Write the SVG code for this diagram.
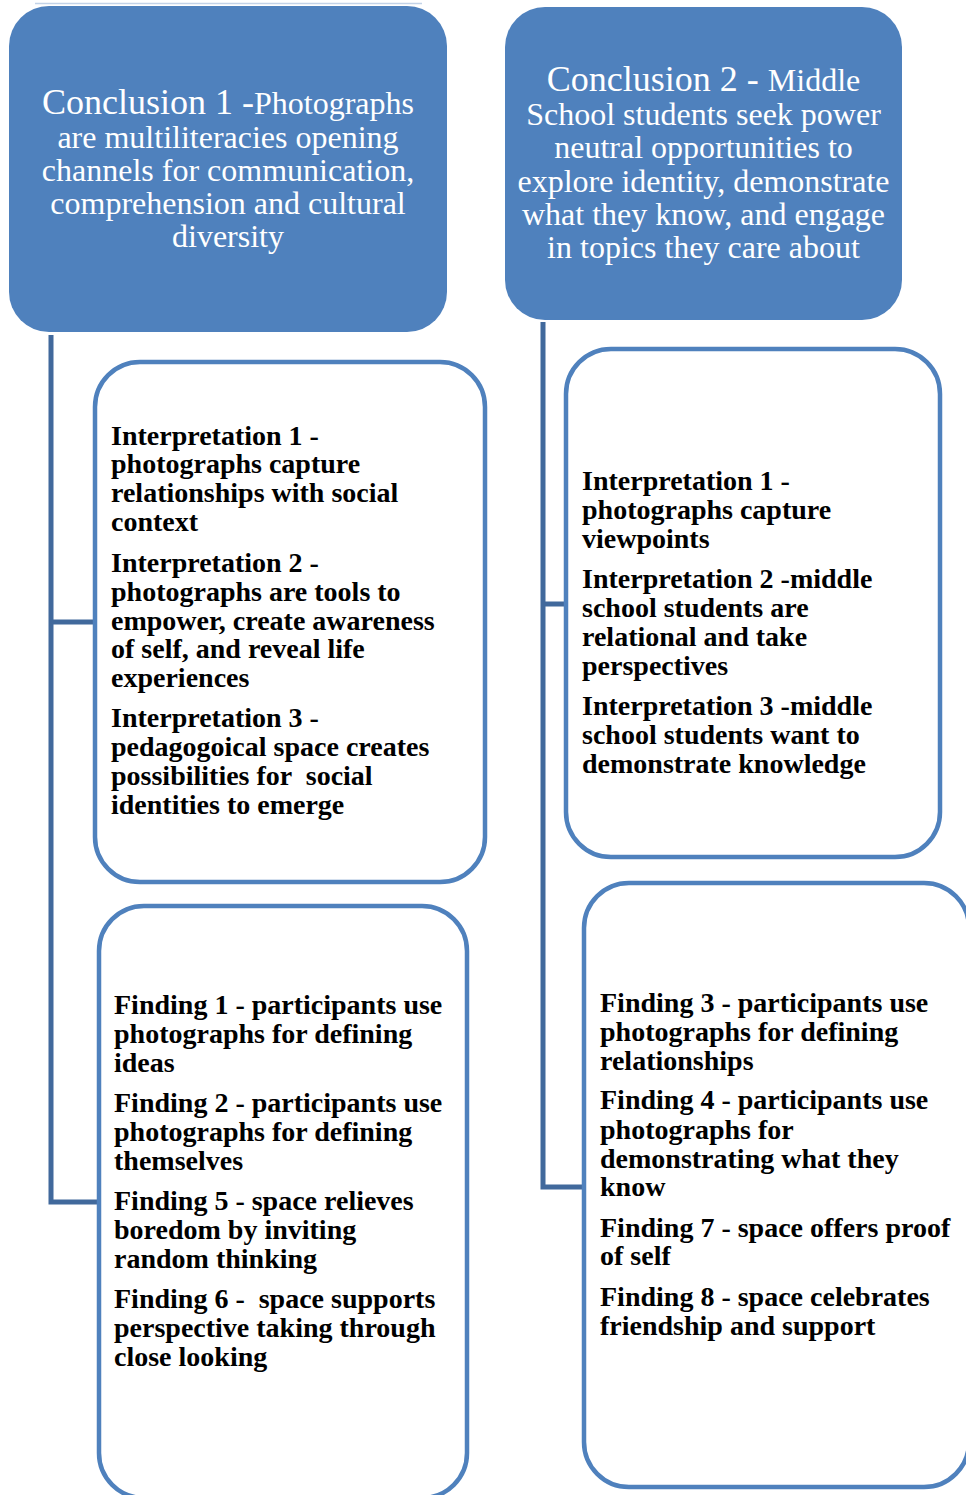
<svg xmlns="http://www.w3.org/2000/svg" width="966" height="1495" viewBox="0 0 966 1495">
<style>
.head{fill:#4F81BD;}
.box{fill:#FFFFFF;stroke:#4F81BD;stroke-width:4.5;}
.conn{fill:none;stroke:#41699C;stroke-width:5;}
.ht{font-family:"Liberation Serif",serif;font-size:32px;fill:#FFFFFF;text-anchor:middle;}
.big{font-size:36px;}
.bt{font-family:"Liberation Serif",serif;font-size:28px;font-weight:bold;fill:#000000;}
</style>
<rect width="966" height="1495" fill="#FFFFFF"/>
<line x1="35" y1="3.5" x2="422" y2="3.5" stroke="#C3D3E8" stroke-width="1.5"/>
<g id="connectors">
<path class="conn" d="M51,335 V1202 H99 M51,622 H95"/>
<path class="conn" d="M543,322 V1187 H584 M543,604 H566"/>
</g>
<g id="conclusion1">
<rect class="head" x="9" y="6" width="438" height="326" rx="40"/>
<text class="ht" x="228" y="114"><tspan class="big">Conclusion 1 -</tspan>Photographs</text>
<text class="ht" x="228" y="148">are multiliteracies opening</text>
<text class="ht" x="228" y="181">channels for communication,</text>
<text class="ht" x="228" y="214">comprehension and cultural</text>
<text class="ht" x="228" y="247">diversity</text>
</g>
<g id="conclusion2">
<rect class="head" x="505" y="7" width="397" height="313" rx="40"/>
<text class="ht" x="703.5" y="91"><tspan class="big">Conclusion 2 - </tspan>Middle</text>
<text class="ht" x="703.5" y="125">School students seek power</text>
<text class="ht" x="703.5" y="158">neutral opportunities to</text>
<text class="ht" x="703.5" y="192">explore identity, demonstrate</text>
<text class="ht" x="703.5" y="225">what they know, and engage</text>
<text class="ht" x="703.5" y="258">in topics they care about</text>
</g>
<g id="interpretations1">
<rect class="box" x="95" y="362" width="390" height="520" rx="45"/>
<text class="bt" x="111" y="445">Interpretation 1 -</text>
<text class="bt" x="111" y="473">photographs capture</text>
<text class="bt" x="111" y="502">relationships with social</text>
<text class="bt" x="111" y="531">context</text>
<text class="bt" x="111" y="572">Interpretation 2 -</text>
<text class="bt" x="111" y="601">photographs are tools to</text>
<text class="bt" x="111" y="630">empower, create awareness</text>
<text class="bt" x="111" y="658">of self, and reveal life</text>
<text class="bt" x="111" y="687">experiences</text>
<text class="bt" x="111" y="727">Interpretation 3 -</text>
<text class="bt" x="111" y="756">pedagogoical space creates</text>
<text class="bt" x="111" y="785" xml:space="preserve">possibilities for  social</text>
<text class="bt" x="111" y="814">identities to emerge</text>
</g>
<g id="interpretations2">
<rect class="box" x="566" y="349" width="374" height="508" rx="45"/>
<text class="bt" x="582" y="490">Interpretation 1 -</text>
<text class="bt" x="582" y="519">photographs capture</text>
<text class="bt" x="582" y="548">viewpoints</text>
<text class="bt" x="582" y="588">Interpretation 2 -middle</text>
<text class="bt" x="582" y="617">school students are</text>
<text class="bt" x="582" y="646">relational and take</text>
<text class="bt" x="582" y="675">perspectives</text>
<text class="bt" x="582" y="715">Interpretation 3 -middle</text>
<text class="bt" x="582" y="744">school students want to</text>
<text class="bt" x="582" y="773">demonstrate knowledge</text>
</g>
<g id="findings1">
<rect class="box" x="99" y="906" width="368" height="592" rx="45"/>
<text class="bt" x="114" y="1014">Finding 1 - participants use</text>
<text class="bt" x="114" y="1043">photographs for defining</text>
<text class="bt" x="114" y="1072">ideas</text>
<text class="bt" x="114" y="1112">Finding 2 - participants use</text>
<text class="bt" x="114" y="1141">photographs for defining</text>
<text class="bt" x="114" y="1170">themselves</text>
<text class="bt" x="114" y="1210">Finding 5 - space relieves</text>
<text class="bt" x="114" y="1239">boredom by inviting</text>
<text class="bt" x="114" y="1268">random thinking</text>
<text class="bt" x="114" y="1308" xml:space="preserve">Finding 6 -  space supports</text>
<text class="bt" x="114" y="1337">perspective taking through</text>
<text class="bt" x="114" y="1366">close looking</text>
</g>
<g id="findings2">
<rect class="box" x="584" y="883" width="385" height="604" rx="45"/>
<text class="bt" x="600" y="1012">Finding 3 - participants use</text>
<text class="bt" x="600" y="1041">photographs for defining</text>
<text class="bt" x="600" y="1070">relationships</text>
<text class="bt" x="600" y="1109">Finding 4 - participants use</text>
<text class="bt" x="600" y="1139">photographs for</text>
<text class="bt" x="600" y="1168">demonstrating what they</text>
<text class="bt" x="600" y="1196">know</text>
<text class="bt" x="600" y="1237">Finding 7 - space offers proof</text>
<text class="bt" x="600" y="1265">of self</text>
<text class="bt" x="600" y="1306">Finding 8 - space celebrates</text>
<text class="bt" x="600" y="1335">friendship and support</text>
</g>
</svg>
